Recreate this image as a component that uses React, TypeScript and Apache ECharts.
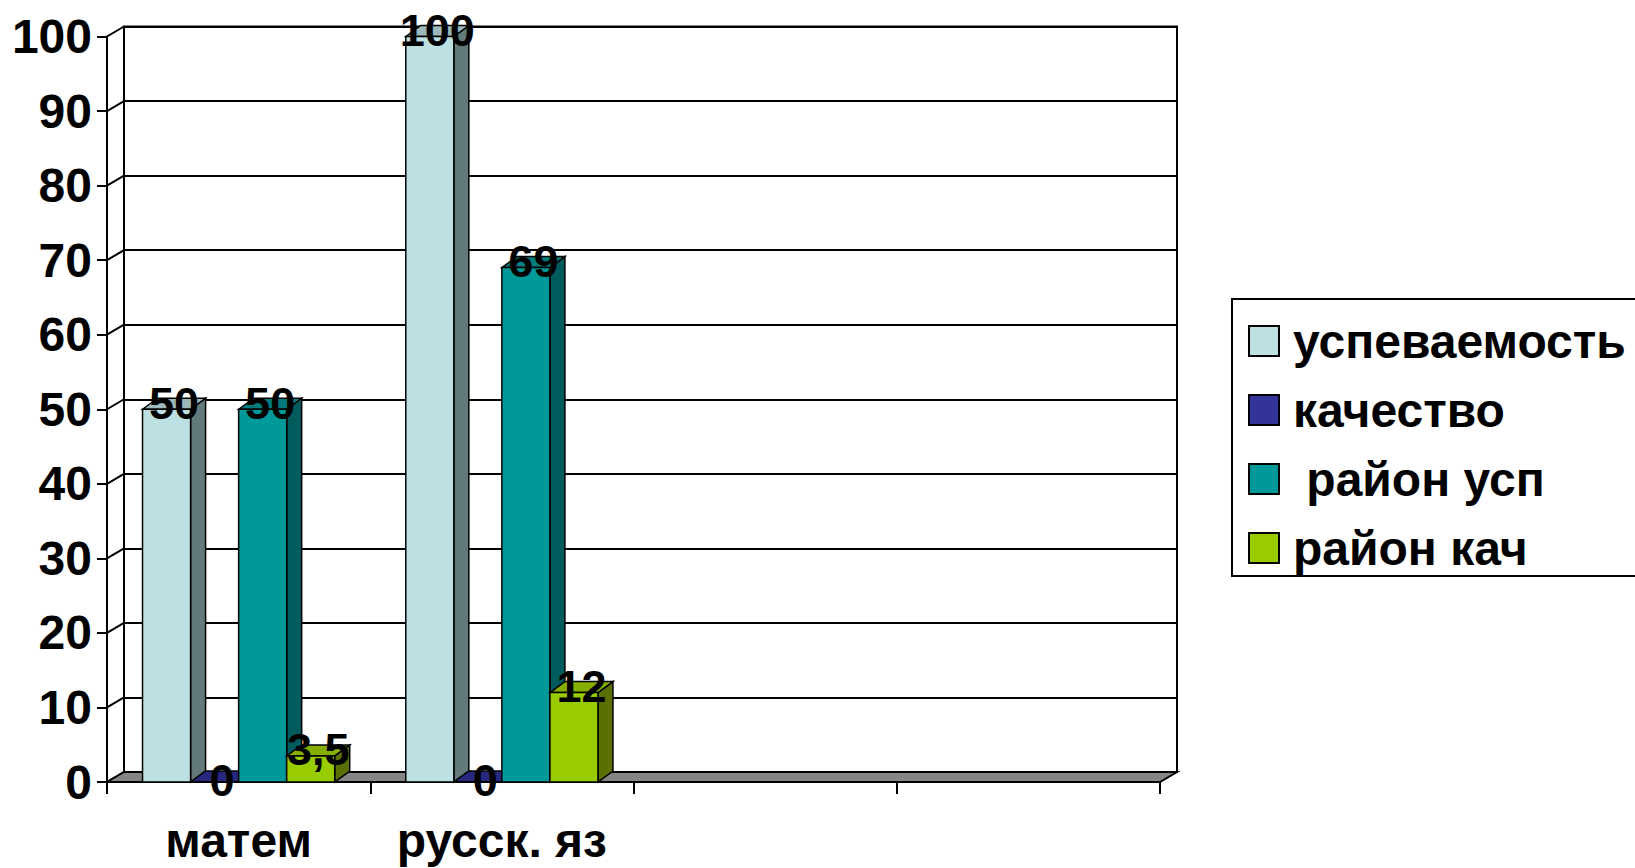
import React, { useEffect, useRef } from "react";
import * as echarts from "echarts";

const categories = ["матем", "русск. яз", "", ""];
const seriesNames = ["успеваемость", "качество", " район усп", "район кач"];
const uspevaemost = [50, 100, null, null];
const kachestvo = [0, 0, null, null];
const rayonUsp = [50, 69, null, null];
const rayonKach = [3.5, 12, null, null];
const yMin = 0;
const yMax = 100;
const yStep = 10;

const seriesValues = [uspevaemost, kachestvo, rayonUsp, rayonKach];
const frontColors = ["#BDE0E3", "#333399", "#009999", "#99CC00"];
const sideColors = ["#627A7A", "#1E1E5E", "#005C5C", "#5A7000"];
const topColors = ["#9CB8BA", "#28287E", "#007A7A", "#86AE00"];

const FONT = "'Liberation Sans', Arial, sans-serif";
const DX = 17;
const DY = -10;
const BDX = 15;
const BDY = -11;
const BAR_FRAC = 0.1825;

const GRID_LEFT = 107;
const GRID_TOP = 36.5;
const GRID_W = 1053;
const GRID_H = 745.5;

function fmt(v: number): string {
  return String(v).replace(".", ",");
}

export default function App() {
  const ref = useRef<HTMLDivElement>(null);
  useEffect(() => {
    if (!ref.current) return;
    const chart = echarts.init(ref.current, null, { renderer: "svg" });

    const tickValues: number[] = [];
    for (let v = yMin; v <= yMax; v += yStep) tickValues.push(v);

    const barSeries = seriesValues.map((vals, si) => ({
      type: "custom",
      name: seriesNames[si],
      xAxisIndex: 0,
      yAxisIndex: 0,
      z: 3,
      itemStyle: { color: frontColors[si] },
      encode: { x: 0, y: 1 },
      data: vals
        .map((v, i) => (v === null ? null : [i, v]))
        .filter((d) => d !== null),
      renderItem: (params: any, api: any) => {
        const idx = api.value(0);
        const v = api.value(1);
        const top = api.coord([idx, v]);
        const base = api.coord([idx, 0]);
        const band = api.size([1, 0])[0];
        const w = band * BAR_FRAC;
        const x0 = top[0] + (si - 2) * w;
        const x1 = x0 + w;
        const yT = top[1];
        const yB = base[1];
        const stroke = { stroke: "#000", lineWidth: 1.5 };
        return {
          type: "group",
          children: [
            {
              type: "polygon",
              shape: {
                points: [
                  [x1, yT],
                  [x1 + BDX, yT + BDY],
                  [x1 + BDX, yB + BDY],
                  [x1, yB],
                ],
              },
              style: { fill: sideColors[si], ...stroke },
            },
            {
              type: "polygon",
              shape: {
                points: [
                  [x0, yT],
                  [x0 + BDX, yT + BDY],
                  [x1 + BDX, yT + BDY],
                  [x1, yT],
                ],
              },
              style: { fill: topColors[si], ...stroke },
            },
            {
              type: "rect",
              shape: { x: x0, y: yT, width: w, height: Math.max(0, yB - yT) },
              style: { fill: frontColors[si], ...stroke },
            },
            {
              type: "text",
              z2: 100,
              x: x0 + w / 2 + BDX / 2,
              y: v === 0 ? yT - 2 : yT - 6,
              style: {
                text: fmt(v),
                fill: "#000",
                fontSize: 45,
                fontWeight: "bold",
                fontFamily: FONT,
                align: "center",
                verticalAlign: "middle",
              },
            },
          ],
        };
      },
    }));

    const wallSeries = {
      type: "custom",
      name: "walls",
      silent: true,
      xAxisIndex: 0,
      yAxisIndex: 0,
      z: 1,
      encode: { x: 0, y: 1 },
      data: tickValues.map((v) => [0, v]),
      renderItem: (params: any, api: any) => {
        const v = api.value(1);
        const cs = params.coordSys;
        const y = api.coord([0, v])[1];
        const children: any[] = [
          {
            type: "line",
            shape: { x1: cs.x, y1: y, x2: cs.x + DX, y2: y + DY },
            style: { stroke: "#000", lineWidth: 2 },
          },
        ];
        if (v === yMin) {
          children.push({
            type: "polygon",
            shape: {
              points: [
                [cs.x, y],
                [cs.x + cs.width, y],
                [cs.x + cs.width + DX, y + DY],
                [cs.x + DX, y + DY],
              ],
            },
            style: { fill: "#858585", stroke: "#000", lineWidth: 2 },
          });
        }
        return { type: "group", children };
      },
    };

    const option: any = {
      animation: false,
      backgroundColor: "#fff",
      textStyle: { fontFamily: FONT },
      grid: [
        {
          left: GRID_LEFT,
          top: GRID_TOP,
          width: GRID_W,
          height: GRID_H,
        },
        {
          left: GRID_LEFT + DX,
          top: GRID_TOP + DY,
          width: GRID_W,
          height: GRID_H,
          show: true,
          borderColor: "#000",
          borderWidth: 2,
          backgroundColor: "transparent",
        },
      ],
      xAxis: [
        {
          type: "category",
          gridIndex: 0,
          data: categories,
          boundaryGap: true,
          axisLine: { show: true, lineStyle: { color: "#000", width: 2 } },
          axisTick: {
            show: true,
            interval: 0,
            length: 12,
            lineStyle: { color: "#000", width: 2 },
          },
          axisLabel: {
            interval: 0,
            margin: 34,
            color: "#000",
            fontSize: 48,
            fontWeight: "bold",
            fontFamily: FONT,
          },
          splitLine: { show: false },
        },
        {
          type: "value",
          gridIndex: 1,
          show: false,
        },
      ],
      yAxis: [
        {
          type: "value",
          gridIndex: 0,
          min: yMin,
          max: yMax,
          interval: yStep,
          axisLine: { show: true, lineStyle: { color: "#000", width: 2 } },
          axisTick: {
            show: true,
            length: 10,
            lineStyle: { color: "#000", width: 2 },
          },
          axisLabel: {
            margin: 15,
            color: "#000",
            fontSize: 48,
            fontWeight: "bold",
            fontFamily: FONT,
          },
          splitLine: { show: false },
        },
        {
          type: "value",
          gridIndex: 1,
          min: yMin,
          max: yMax,
          interval: yStep,
          axisLine: { show: false },
          axisTick: { show: false },
          axisLabel: { show: false },
          splitLine: { show: true, lineStyle: { color: "#000", width: 2 } },
        },
      ],
      legend: {
        data: seriesNames,
        orient: "vertical",
        left: 1232,
        top: 299,
        backgroundColor: "#fff",
        borderColor: "#000",
        borderWidth: 2,
        borderRadius: 0,
        padding: [18, 20, 4, 16],
        itemWidth: 30,
        itemHeight: 30,
        itemGap: 21,
        icon: "rect",
        itemStyle: { borderColor: "#000", borderWidth: 2 },
        selectedMode: false,
        textStyle: {
          fontSize: 48,
          fontWeight: "bold",
          fontFamily: FONT,
          color: "#000",
          lineHeight: 46,
          padding: [0, 0, 0, 9],
        },
      },
      series: [wallSeries, ...barSeries],
    };

    chart.setOption(option);
    return () => chart.dispose();
  }, []);

  return (
    <div
      ref={ref}
      style={{ position: "fixed", left: 0, top: 0, width: "1635px", height: "868px" }}
    />
  );
}
